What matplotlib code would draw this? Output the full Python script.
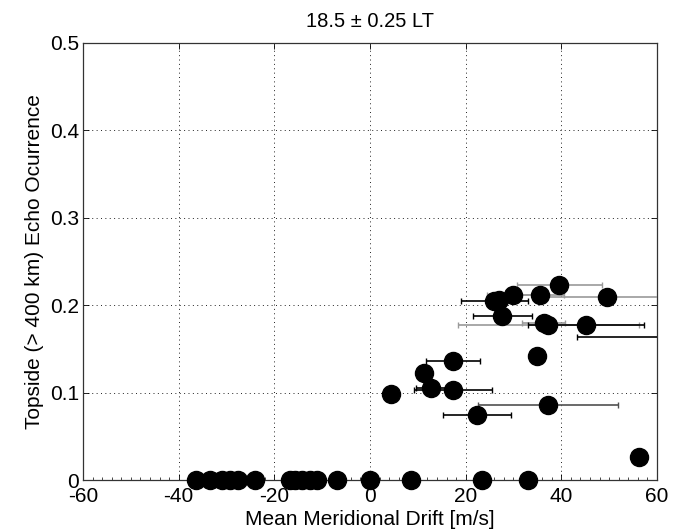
import matplotlib
matplotlib.use("Agg")
import matplotlib.pyplot as plt
from matplotlib.ticker import MultipleLocator

plt.rcParams['font.family'] = ['Liberation Sans', 'DejaVu Sans']

title = "18.5 ± 0.25 LT"
xlabel = "Mean Meridional Drift [m/s]"
ylabel = "Topside (> 400 km) Echo Ocurrence"
xticks = [-60, -40, -20, 0, 20, 40, 60]
yticks = [0, 0.1, 0.2, 0.3, 0.4, 0.5]

# points at zero occurrence
x_zero = [-36.3, -33.5, -31.0, -29.2, -27.6, -24.0, -16.8, -15.6, -14.2,
          -12.5, -11.0, -6.8, 0.0, 8.6, 23.4, 33.0]
y_zero = [0.0] * len(x_zero)

# points without error bars
x_plain = [11.2, 4.4, 34.9, 56.2]
y_plain = [0.122, 0.098, 0.142, 0.026]

# points with black error bars
x_black = [17.3, 12.8, 17.3, 22.4, 26.0, 27.7, 45.2, 65.0]
y_black = [0.1365, 0.105, 0.103, 0.0745, 0.2045, 0.188, 0.177, 0.163]
e_black = [5.6, 3.2, 8.2, 7.1, 7.0, 6.2, 12.1, 21.8]

# points with dark-gray error bars
x_dgray = [37.2]
y_dgray = [0.086]
e_dgray = [14.6]

# points with light-gray error bars
x_gray = [39.6, 29.85, 35.6, 49.5, 36.3, 37.3, 26.9]
y_gray = [0.223, 0.212, 0.2115, 0.209, 0.179, 0.177, 0.206]
e_gray = [8.9, 5.3, 4.9, 12.5, 4.5, 19.0, 0.0]

fig = plt.figure(figsize=(6.84, 5.30), dpi=100)
ax = fig.add_axes([0.1213, 0.0943, 0.8392, 0.8251])

ms = 13
ax.errorbar(x_gray, y_gray, xerr=e_gray, fmt='o', color='black', ms=ms,
            ecolor='#9a9a9a', elinewidth=1.2, capsize=2.5, capthick=1.0, zorder=3)
ax.errorbar(x_dgray, y_dgray, xerr=e_dgray, fmt='o', color='black', ms=ms,
            ecolor='#505050', elinewidth=1.2, capsize=2.5, capthick=1.0, zorder=3)
ax.errorbar(x_black, y_black, xerr=e_black, fmt='o', color='black', ms=ms,
            ecolor='black', elinewidth=1.2, capsize=2.5, capthick=1.0, zorder=4)
ax.plot(x_plain, y_plain, 'o', color='black', ms=ms, zorder=5)
ax.plot(x_zero, y_zero, 'o', color='black', ms=ms, zorder=5, clip_on=False)

ax.set_xlim(-60, 60)
ax.set_ylim(0, 0.5)
ax.set_xticks(xticks)
ax.set_yticks(yticks)
ax.set_xticklabels([str(t) for t in xticks])
ax.set_yticklabels(['0', '0.1', '0.2', '0.3', '0.4', '0.5'])
ax.xaxis.set_minor_locator(MultipleLocator(2))
ax.tick_params(axis='both', which='major', direction='in', length=4, width=0.6,
               labelsize=15, top=True, right=True, pad=3)
ax.tick_params(axis='x', which='major', pad=5)
ax.tick_params(axis='x', which='minor', direction='in', length=2, width=0.5,
               top=False)
ax.grid(True, which='major', linestyle=(0, (1, 3.5)), color='#222222', linewidth=0.7)
for s in ax.spines.values():
    s.set_linewidth(0.9)
    s.set_color('#333333')

ax.set_title(title, fontsize=14.5, pad=11)
ax.set_xlabel(xlabel, fontsize=15, labelpad=3)
ax.set_ylabel(ylabel, fontsize=15, labelpad=4)

fig.savefig("out.png", dpi=100)
